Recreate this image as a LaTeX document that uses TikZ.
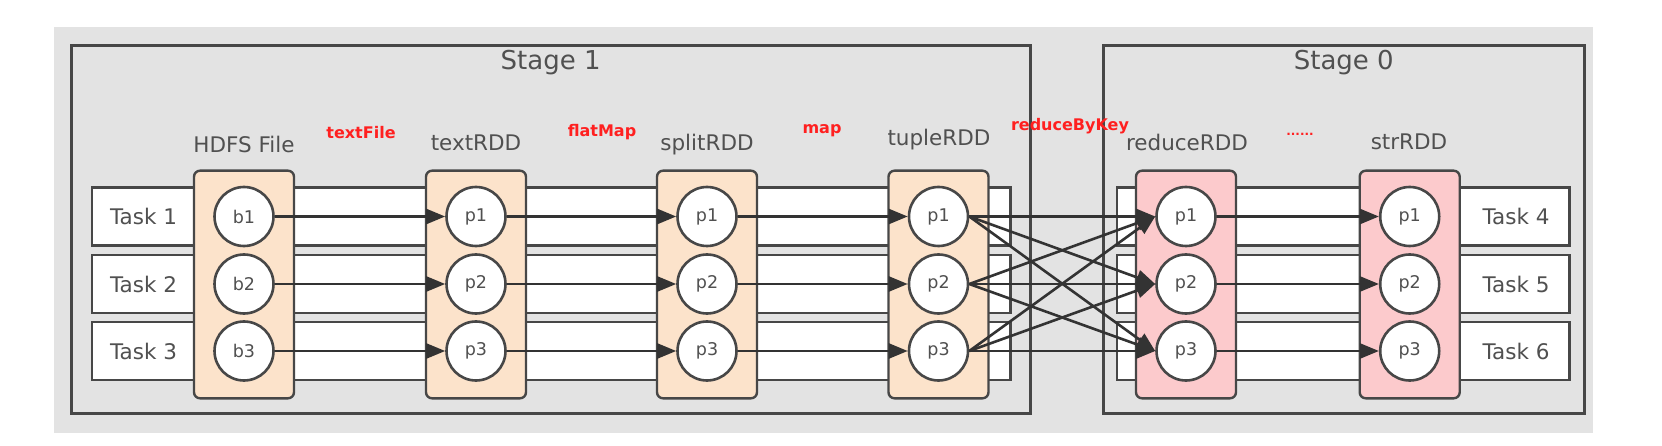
\documentclass[tikz,border=0pt]{standalone}
\usepackage{fontspec}
\setmainfont{DejaVu Sans}
\usetikzlibrary{arrows.meta}
\definecolor{bgc}{HTML}{E3E3E3}
\definecolor{strokec}{HTML}{474747}
\definecolor{arrowc}{HTML}{333333}
\definecolor{textc}{HTML}{505050}
\definecolor{peach}{HTML}{FCE3CB}
\definecolor{pinkc}{HTML}{FCCACC}
\definecolor{opred}{HTML}{FF2020}
\begin{document}
\begin{tikzpicture}[x=1pt,y=-1pt,
  stagebox/.style={draw=strokec, line width=3pt, inner sep=0pt, minimum height=367.3pt},
  taskrow/.style={draw=strokec, line width=2.6pt, fill=white, minimum height=58pt, inner sep=0pt},
  rddbox/.style={draw=strokec, line width=2.4pt, rounded corners=6pt, minimum width=100pt, minimum height=227.6pt, inner sep=0pt},
  part/.style={circle, draw=strokec, line width=2.6pt, fill=white, minimum size=59pt, inner sep=0pt, text=textc, font=\fontsize{17.5}{20}\selectfont},
  stagelbl/.style={text=textc, font=\fontsize{26}{30}\selectfont, inner sep=0pt},
  lbl/.style={text=textc, font=\fontsize{21.5}{24}\selectfont, inner sep=0pt},
  oplbl/.style={text=opred, font=\bfseries\fontsize{16}{18}\selectfont, inner sep=0pt},
  flow/.style={draw=arrowc, line width=2.6pt, -{Triangle[length=19pt,width=15pt]}}
]
\useasboundingbox (0,0) rectangle (1662,446);
\fill[bgc] (54,27) rectangle (1593,433);

% stages
\node[stagebox, minimum width=958.6pt] (s1) at (550.7,229.35) {};
\node[stagebox, minimum width=481.6pt] (s0) at (1343.8,229.35) {};
\node[stagelbl] (st1) at (550.7,63) {Stage 1};
\node[stagelbl] (st0) at (1343.8,63) {Stage 0};

% task rows
\foreach \i/\y in {1/216.5,2/284,3/351} {
  \node[taskrow, minimum width=918.9pt] (L\i) at (551.25,\y) {};
  \node[taskrow, minimum width=452.5pt] (R\i) at (1343.25,\y) {};
}
\node[lbl] (t1) at (143.5,216.5) {Task 1};
\node[lbl] (t2) at (143.5,284) {Task 2};
\node[lbl] (t3) at (143.5,351) {Task 3};
\node[lbl] (t4) at (1516,216.5) {Task 4};
\node[lbl] (t5) at (1516,284) {Task 5};
\node[lbl] (t6) at (1516,351) {Task 6};

% rdd boxes
\node[rddbox, fill=peach] (bA) at (244,284.5) {};
\node[rddbox, fill=peach] (bB) at (476,284.5) {};
\node[rddbox, fill=peach] (bC) at (707,284.5) {};
\node[rddbox, fill=peach] (bD) at (938.5,284.5) {};
\node[rddbox, fill=pinkc] (bE) at (1186,284.5) {};
\node[rddbox, fill=pinkc] (bF) at (1409.7,284.5) {};

% partitions
\foreach \i/\y in {1/216.5,2/284,3/351} {
  \node[part] (A\i) at (244,\y) {b\i};
  \node[part] (B\i) at (476,\y) {p\i};
  \node[part] (C\i) at (707,\y) {p\i};
  \node[part] (D\i) at (938.5,\y) {p\i};
  \node[part] (E\i) at (1186,\y) {p\i};
  \node[part] (F\i) at (1409.7,\y) {p\i};
}

% arrows
\foreach \i in {1,2,3} {
  \draw[flow] (A\i.east) -- (B\i.west);
  \draw[flow] (B\i.east) -- (C\i.west);
  \draw[flow] (C\i.east) -- (D\i.west);
  \draw[flow] (E\i.east) -- (F\i.west);
  \foreach \j in {1,2,3} {
    \draw[flow] (D\i.east) -- (E\j.west);
  }
}

% rdd labels
\node[lbl] (lA) at (244,144) {HDFS File};
\node[lbl] (lB) at (476,143) {textRDD};
\node[lbl] (lC) at (707,145) {splitRDD};
\node[lbl] (lD) at (939,140) {tupleRDD};
\node[lbl] (lE) at (1187,142) {reduceRDD};
\node[lbl] (lF) at (1409,142) {strRDD};

% operation labels
\node[oplbl] (o1) at (361,133) {textFile};
\node[oplbl] (o2) at (602,132) {flatMap};
\node[oplbl] (o3) at (822,131) {map};
\node[oplbl] (o4) at (1070,126) {reduceByKey};
\node[text=opred, font=\bfseries\fontsize{12}{14}\selectfont, inner sep=0pt] (o5) at (1300,134) {......};
\end{tikzpicture}
\end{document}
